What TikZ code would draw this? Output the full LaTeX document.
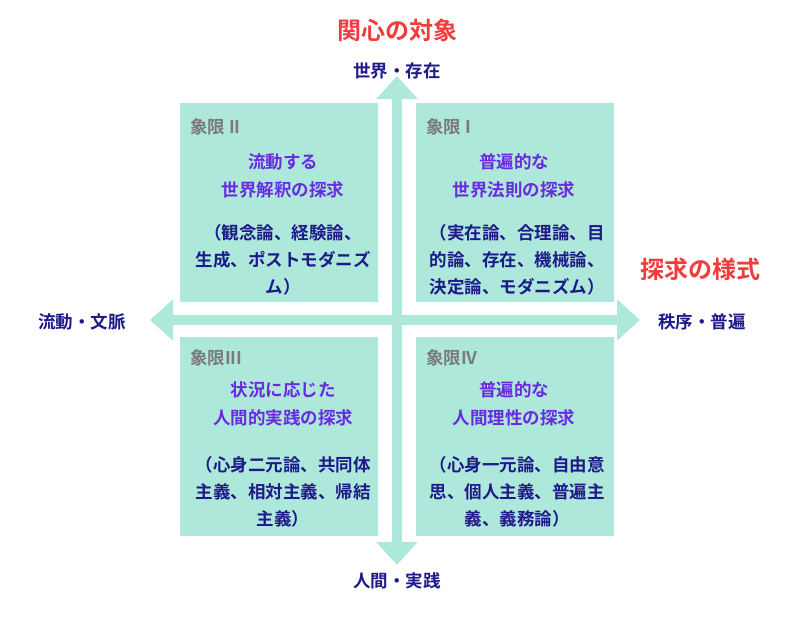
\documentclass[tikz,border=0pt]{standalone}
\usepackage{fontspec}
\setmainfont{Noto Sans CJK JP}[BoldFont={* Bold}]
\usetikzlibrary{arrows.meta}
\definecolor{mint}{HTML}{AEE8DB}
\definecolor{quadgray}{HTML}{7A7A7A}
\definecolor{qviolet}{HTML}{6A2BE0}
\definecolor{qnavy}{HTML}{1E1A8A}
\definecolor{axisred}{HTML}{F03C3C}

\begin{document}
\begin{tikzpicture}[x=1pt,y=-1pt,
   quad/.style={fill=mint,draw=none,minimum width=198pt,minimum height=199pt,anchor=north west},
   qname/.style={anchor=north west,text=quadgray,font=\fontsize{17.5}{19}\selectfont\bfseries,inner sep=0pt},
   qtitle/.style={text=qviolet,align=center,font=\fontsize{17.5}{28}\selectfont\bfseries},
   qbody/.style={text=qnavy,align=center,font=\fontsize{17.5}{27}\selectfont\bfseries},
   axislabel/.style={text=qnavy,font=\fontsize{17.5}{19}\selectfont\bfseries},
   axistitle/.style={text=axisred,font=\fontsize{24}{26}\selectfont\bfseries},
   axis/.style={mint,line width=10pt,{Triangle[width=40pt,length=23pt]}-{Triangle[width=40pt,length=23pt]}}]
\useasboundingbox (0,0) rectangle (797,620);

% quadrants
\node[quad] (q2) at (180,103) {};
\node[quad] (q1) at (416,103) {};
\node[quad] (q3) at (180,337) {};
\node[quad] (q4) at (416,337) {};

\node[qname] at (190,118) {象限 II};
\node[qname] at (426,118) {象限 I};
\node[qname] at (190,349) {象限III};
\node[qname] at (426,349) {象限IV};

\node[qtitle] at (283,176) {流動する\\世界解釈の探求};
\node[qtitle] at (514,176) {普遍的な\\世界法則の探求};
\node[qtitle] at (283,404) {状況に応じた\\人間的実践の探求};
\node[qtitle] at (514,404) {普遍的な\\人間理性の探求};

\node[qbody] at (283,260) {（観念論、経験論、\\生成、ポストモダニズ\\ム）};
\node[qbody] at (517,260) {（実在論、合理論、目\\的論、存在、機械論、\\決定論、モダニズム）};
\node[qbody] at (283,492) {（心身二元論、共同体\\主義、相対主義、帰結\\主義）};
\node[qbody] at (517,492) {（心身一元論、自由意\\思、個人主義、普遍主\\義、義務論）};

% axes
\coordinate (top) at (397,76);
\coordinate (bottom) at (397,565);
\coordinate (left) at (150,320);
\coordinate (right) at (640,320);
\draw[axis] (bottom) -- (top);
\draw[axis] (left) -- (right);

\node[axistitle] (vt) at (397,30) {関心の対象};
\node[axislabel] (up) at (397,71) {世界・存在};
\node[axislabel] (down) at (397,581) {人間・実践};
\node[axislabel] (lt) at (82,322) {流動・文脈};
\node[axislabel] (rt) at (702,322) {秩序・普遍};
\node[axistitle] (ht) at (700,269) {探求の様式};
\end{tikzpicture}
\end{document}
